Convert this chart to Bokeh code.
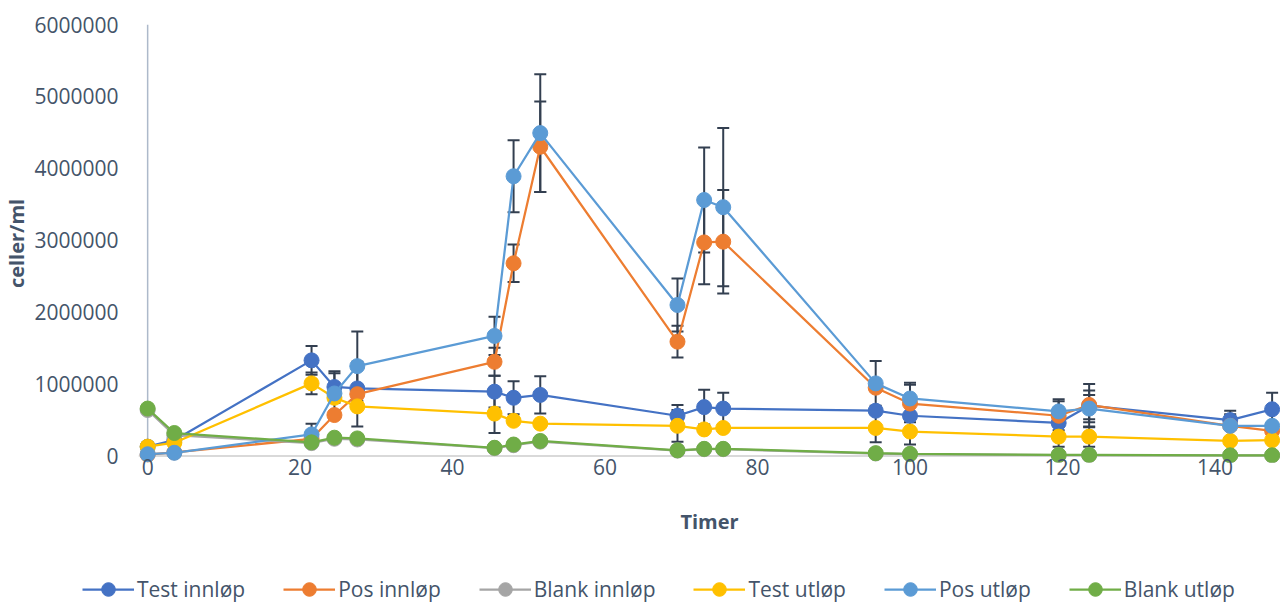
from bokeh.plotting import figure
from bokeh.layouts import column
from bokeh.models import (ColumnDataSource, Whisker, TeeHead, FixedTicker,
                          BasicTickFormatter, Legend, LegendItem, Range1d, Span)
from bokeh.embed import file_html
from bokeh.resources import INLINE

# ---- data ----
hours = [0, 3.5, 21.5, 24.5, 27.5, 45.5, 48, 51.5, 69.5, 73, 75.5,
         95.5, 100, 119.5, 123.5, 142, 147.5]

test_innlop = [130000, 220000, 1330000, 960000, 940000, 895000, 810000, 850000,
               560000, 680000, 660000, 630000, 560000, 460000, 700000, 500000, 650000]
pos_innlop = [20000, 50000, 240000, 570000, 860000, 1310000, 2680000, 4300000,
              1590000, 2970000, 2980000, 950000, 730000, 560000, 710000, 420000, 350000]
blank_innlop = [640000, 290000, 180000, 240000, 230000, 110000, 150000, 200000,
                75000, 95000, 95000, 35000, 25000, 12000, 12000, 8000, 8000]
test_utlop = [130000, 185000, 1010000, 810000, 690000, 590000, 490000, 450000,
              420000, 370000, 390000, 390000, 340000, 270000, 270000, 210000, 220000]
pos_utlop = [25000, 45000, 300000, 870000, 1250000, 1670000, 3890000, 4490000,
             2100000, 3560000, 3460000, 1010000, 800000, 620000, 660000, 420000, 420000]
blank_utlop = [660000, 320000, 190000, 255000, 245000, 115000, 160000, 210000,
               80000, 100000, 100000, 40000, 30000, 15000, 15000, 10000, 10000]

# standard deviations (0 = no error bar shown)
test_innlop_sd = [0, 0, 200000, 220000, 0, 220000, 230000, 260000, 150000, 240000,
                  220000, 0, 0, 0, 300000, 130000, 230000]
pos_innlop_sd = [0, 0, 0, 0, 450000, 195000, 260000, 630000, 220000, 580000,
                 720000, 0, 260000, 200000, 200000, 0, 0]
blank_innlop_sd = [0] * 17
test_utlop_sd = [0, 0, 150000, 0, 0, 270000, 0, 0, 220000, 0, 0, 200000, 180000,
                 140000, 140000, 0, 0]
pos_utlop_sd = [0, 0, 150000, 280000, 480000, 265000, 500000, 820000, 370000, 730000,
                1100000, 310000, 220000, 170000, 190000, 160000, 0]
blank_utlop_sd = [0] * 17

names = ["Test innløp", "Pos innløp", "Blank innløp", "Test utløp", "Pos utløp", "Blank utløp"]
values = [test_innlop, pos_innlop, blank_innlop, test_utlop, pos_utlop, blank_utlop]
sds = [test_innlop_sd, pos_innlop_sd, blank_innlop_sd, test_utlop_sd, pos_utlop_sd, blank_utlop_sd]
colors = ["#4472C4", "#ED7D31", "#A5A5A5", "#FFC000", "#5B9BD5", "#70AD47"]

x_ticks = [0, 20, 40, 60, 80, 100, 120, 140]
y_ticks = [0, 1000000, 2000000, 3000000, 4000000, 5000000, 6000000]

FONT = "Open Sans"
TEXT = "#44546A"
ERR = "#333F50"
W = 1280

p = figure(width=W, height=548, output_backend="svg", toolbar_location=None,
           x_range=Range1d(-1.2, 148.6), y_range=Range1d(-90000, 6000000),
           min_border_left=137, min_border_right=0, min_border_top=24,
           min_border_bottom=86, outline_line_color=None,
           background_fill_color="white", border_fill_color="white")
p.grid.visible = False

# x axis
xa = p.xaxis[0]
xa.ticker = FixedTicker(ticks=x_ticks)
xa.axis_line_color = None
xa.major_tick_line_color = None
xa.minor_tick_line_color = None
xa.major_label_text_font = FONT
xa.major_label_text_font_size = "21px"
xa.major_label_text_color = TEXT
xa.major_label_standoff = -10
xa.axis_label = "Timer"
xa.axis_label_text_font = FONT
xa.axis_label_text_font_size = "20px"
xa.axis_label_text_font_style = "bold"
xa.axis_label_text_color = TEXT
xa.axis_label_standoff = 30

# y axis
ya = p.yaxis[0]
ya.ticker = FixedTicker(ticks=y_ticks)
ya.formatter = BasicTickFormatter(use_scientific=False)
ya.axis_line_color = None
ya.major_tick_line_color = None
ya.minor_tick_line_color = None
ya.major_label_text_font = FONT
ya.major_label_text_font_size = "21px"
ya.major_label_text_color = TEXT
ya.major_label_standoff = 14
ya.axis_label = "celler/ml"
ya.axis_label_text_font = FONT
ya.axis_label_text_font_size = "20px"
ya.axis_label_text_font_style = "bold"
ya.axis_label_text_color = TEXT
ya.axis_label_standoff = 1

# axis lines through zero
p.add_layout(Span(location=0, dimension="width", line_color="#D9D9D9",
                  line_width=2, level="underlay"))
p.add_layout(Span(location=0, dimension="height", line_color="#ADB9CA",
                  line_width=1.5, level="underlay"))

for name, vals, sd, col in zip(names, values, sds, colors):
    eb = [(h, v - s, v + s) for h, v, s in zip(hours, vals, sd) if s > 0]
    if eb:
        esrc = ColumnDataSource(dict(base=[e[0] for e in eb],
                                     lower=[e[1] for e in eb],
                                     upper=[e[2] for e in eb]))
        p.add_layout(Whisker(source=esrc, base="base", lower="lower", upper="upper",
                             dimension="height", line_color=ERR, line_width=2,
                             level="underlay",
                             upper_head=TeeHead(size=12, line_color=ERR, line_width=2),
                             lower_head=TeeHead(size=12, line_color=ERR, line_width=2)))

sources = []
for name, vals, sd, col in zip(names, values, sds, colors):
    src = ColumnDataSource(dict(x=hours, y=vals))
    sources.append(src)
    p.line("x", "y", source=src, line_color=col, line_width=2.25)
    p.scatter("x", "y", source=src, size=15, fill_color=col, line_color=col)

# ---- legend strip (its series lie outside this strip's view; only the keys show) ----
lf = figure(width=W, height=58, output_backend="svg", toolbar_location=None,
            x_range=Range1d(0, 1), y_range=Range1d(-2, -1),
            x_axis_type=None, y_axis_type=None,
            min_border_left=0, min_border_right=0, min_border_top=0,
            min_border_bottom=0, outline_line_color=None,
            background_fill_color="white", border_fill_color="white")
lf.grid.visible = False
items = []
for name, col, src in zip(names, colors, sources):
    lr = lf.line("x", "y", source=src, line_color=col, line_width=2.25)
    sr = lf.scatter("x", "y", source=src, size=15, fill_color=col, line_color=col)
    items.append(LegendItem(label=name, renderers=[lr, sr]))

for fig in (p, lf):
    try:
        fig.frame_align = False
    except Exception:
        pass

legend = Legend(items=items, orientation="horizontal", location=(82, 0),
                glyph_width=52, glyph_height=34, label_standoff=3, spacing=38,
                padding=0, margin=0, border_line_color=None, background_fill_alpha=0,
                label_text_font=FONT, label_text_font_size="21px",
                label_text_color=TEXT)
lf.add_layout(legend, "center")

layout = column(p, lf, spacing=0)
open("out.html", "w").write(file_html(layout, INLINE))
